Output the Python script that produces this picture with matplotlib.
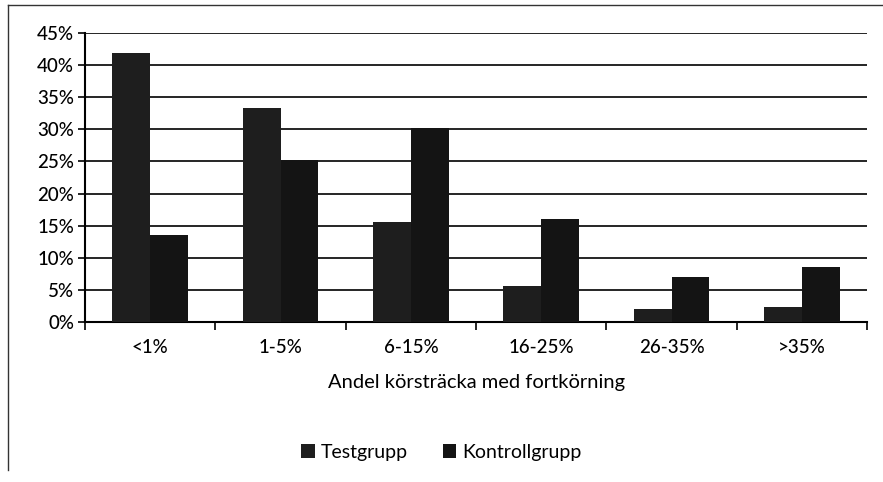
import numpy as np
import matplotlib.pyplot as plt
from matplotlib.lines import Line2D

# Data
kategorier = ['<1%', '1-5%', '6-15%', '16-25%', '26-35%', '>35%']
testgrupp = [41.9, 33.3, 15.5, 5.6, 2.0, 2.3]
kontrollgrupp = [13.5, 25.2, 30.2, 16.0, 7.0, 8.5]
y_ticks = [0, 5, 10, 15, 20, 25, 30, 35, 40, 45]

plt.rcParams['font.family'] = ['Lato', 'DejaVu Sans']

fig = plt.figure(figsize=(8.83, 4.82), dpi=100)
ax = fig.add_axes([0.0963, 0.332, 0.8857, 0.5995])

x = np.arange(len(kategorier))
w = 0.29
ax.bar(x - w / 2, testgrupp, w, color='#1e1e1e', label='Testgrupp', zorder=3)
ax.bar(x + w / 2, kontrollgrupp, w, color='#141414', label='Kontrollgrupp', zorder=3)

ax.set_xlim(-0.5, len(kategorier) - 0.5)
ax.set_ylim(0, 45)
ax.set_yticks(y_ticks)
ax.set_yticklabels([f'{t}%' for t in y_ticks], fontsize=13.5, fontweight='medium')
ax.yaxis.grid(True, color='black', linewidth=1.2, zorder=0)

# tick marks between categories
ax.set_xticks(np.arange(-0.5, len(kategorier)), minor=False)
ax.set_xticklabels([])
ax.set_xticks(x, minor=True)
ax.set_xticklabels(kategorier, minor=True, fontsize=13.5, fontweight='medium')
ax.tick_params(axis='x', which='major', length=6, width=1.2, direction='out')
ax.tick_params(axis='x', which='minor', length=0, pad=12)
ax.tick_params(axis='y', length=5, width=1.2, direction='out', pad=3)

for s in ['top', 'right']:
    ax.spines[s].set_visible(False)
ax.spines['left'].set_linewidth(1.5)
ax.spines['bottom'].set_linewidth(1.5)

ax.set_xlabel('Andel körsträcka med fortkörning', fontsize=14.5, labelpad=13)

fig.legend(loc='center', bbox_to_anchor=(0.5, 0.062), ncol=2, frameon=False,
           prop={'size': 14}, handlelength=0.7, handleheight=0.7, columnspacing=1.8,
           handletextpad=0.3)

# outer chart border (left and top visible)
fig.add_artist(Line2D([0.009, 0.009], [0.025, 0.99], transform=fig.transFigure,
                      color='#333333', linewidth=1.0))
fig.add_artist(Line2D([0.009, 1.0], [0.99, 0.99], transform=fig.transFigure,
                      color='#333333', linewidth=1.0))

fig.savefig('out.png', dpi=100)
